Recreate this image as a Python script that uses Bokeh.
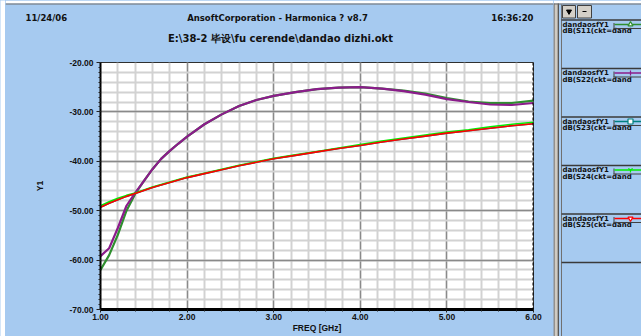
from bokeh.plotting import figure
from bokeh.layouts import row, column
from bokeh.models import Range1d, SingleIntervalTicker, PrintfTickFormatter, Span
from bokeh.core.properties import value
from bokeh.embed import file_html
from bokeh.resources import INLINE
import math

# ---------------- data ----------------
freq = [1.0, 1.1, 1.2, 1.3, 1.4, 1.5, 1.6, 1.7, 1.8, 1.9, 2.0, 2.2, 2.4, 2.6, 2.8, 3.0,
        3.25, 3.5, 3.75, 4.0, 4.25, 4.5, 4.75, 5.0, 5.25, 5.5, 5.75, 6.0]
s11 = [-62.0, -59.0, -54.9, -50.0, -46.6, -44.0, -41.6, -39.5, -37.9, -36.4, -35.0, -32.5,
       -30.5, -28.8, -27.6, -26.75, -26.0, -25.4, -25.1, -25.0, -25.3, -25.7, -26.3, -27.2,
       -27.9, -28.2, -28.2, -27.7]
s22 = [-59.2, -57.6, -53.5, -49.0, -46.4, -44.0, -41.6, -39.5, -37.9, -36.4, -35.0, -32.5,
       -30.5, -28.8, -27.6, -26.75, -26.0, -25.4, -25.1, -25.0, -25.3, -25.8, -26.5, -27.4,
       -28.0, -28.5, -28.6, -28.2]
s23 = [-49.3, -48.5, -47.8, -47.1, -46.5, -45.9, -45.3, -44.8, -44.3, -43.8, -43.3, -42.5,
       -41.7, -40.9, -40.2, -39.5, -38.8, -38.1, -37.4, -36.8, -36.1, -35.5, -34.9, -34.3,
       -33.8, -33.3, -32.8, -32.4]
s24 = [-49.0, -48.2, -47.5, -46.9, -46.4, -45.8, -45.2, -44.7, -44.2, -43.7, -43.2, -42.4,
       -41.6, -40.8, -40.1, -39.4, -38.7, -38.0, -37.3, -36.6, -35.9, -35.3, -34.7, -34.1,
       -33.6, -33.0, -32.5, -32.1]
s25 = [-49.3, -48.5, -47.8, -47.1, -46.5, -45.9, -45.3, -44.8, -44.3, -43.8, -43.3, -42.5,
       -41.7, -40.9, -40.2, -39.5, -38.8, -38.1, -37.4, -36.8, -36.1, -35.5, -34.9, -34.3,
       -33.8, -33.3, -32.8, -32.4]

series_names = ["S11", "S22", "S23", "S24", "S25"]
series_values = [s11, s22, s23, s24, s25]
series_colors = ["#2f8f2f", "#8b1c8b", "#008080", "#00ee00", "#ff0000"]
series_markers = ["triangle", "dash", "square", "y", "inverted_triangle"]

legend_line1 = "dandaosfY1"
legend_line2_fmt = "dB({}(ckt=dand"

header_date = "11/24/06"
header_title = "AnsoftCorporation - Harmonica ? v8.7"
header_time = "16:36:20"
header_file = "E:\\38-2 毕设\\fu cerende\\dandao dizhi.okt"

x_label = "FREQ [GHz]"
y_label = "Y1"

BG = "#A6CAF0"
FONT = "DejaVu Sans"
AXFONT = "Liberation Sans"


def bare(fig, bg):
    fig.axis.visible = False
    fig.grid.visible = False
    fig.outline_line_color = None
    fig.background_fill_color = bg
    fig.border_fill_color = bg
    fig.frame_align = False


# ---------------- white strip at left ----------------
sp = figure(width=5, height=336, x_range=Range1d(0, 5), y_range=Range1d(336, 0),
            output_backend="svg", toolbar_location=None, min_border=0)
bare(sp, "white")

# ---------------- header ----------------
h = figure(width=548, height=58, x_range=Range1d(5, 553), y_range=Range1d(58, 0),
           output_backend="svg", toolbar_location=None, min_border=0)
bare(h, BG)
h.quad(left=[5], right=[553], top=[0], bottom=[3], fill_color="white", line_color=None)
h.segment(x0=[5], y0=[3.5], x1=[553], y1=[3.5], line_color="#6a6a6a", line_width=1.2)
tkw = dict(text_font=value(FONT), text_font_style="bold", text_font_size="8.5px",
           text_color="#111111", text_baseline="middle")
h.text(x=[25], y=[17], text=[header_date], text_align="left", **tkw)
h.text(x=[277], y=[17], text=[header_title], text_align="center", **tkw)
h.text(x=[533], y=[17], text=[header_time], text_align="right", **tkw)
tkw2 = dict(tkw)
tkw2["text_font_size"] = "10px"
h.text(x=[280], y=[38], text=[header_file], text_align="center", **tkw2)

# ---------------- main plot ----------------
p = figure(width=548, height=278, x_range=Range1d(1, 6), y_range=Range1d(-70, -20),
           output_backend="svg", toolbar_location=None,
           min_border_left=95, min_border_right=20, min_border_top=4, min_border_bottom=27)
p.frame_align = False
p.background_fill_color = "white"
p.border_fill_color = BG
p.outline_line_color = "#303030"
p.outline_line_width = 1

p.xaxis.ticker = SingleIntervalTicker(interval=1, num_minor_ticks=5)
p.yaxis.ticker = SingleIntervalTicker(interval=10, num_minor_ticks=10)
p.xgrid.ticker = SingleIntervalTicker(interval=1, num_minor_ticks=5)
p.ygrid.ticker = SingleIntervalTicker(interval=10, num_minor_ticks=5)
for g in (p.xgrid, p.ygrid):
    g.grid_line_color = "#8a8a8a"
    g.grid_line_width = 1.3
    g.minor_grid_line_color = "#d2d2d2"
    g.minor_grid_line_width = 2

fmt = PrintfTickFormatter(format="%.2f")
for ax in (p.xaxis, p.yaxis):
    ax.formatter = fmt
    ax.axis_line_color = "black"
    ax.major_tick_line_color = "#222222"
    ax.minor_tick_line_color = "#222222"
    ax.major_tick_in = 0
    ax.minor_tick_in = 0
    ax.major_label_text_font = AXFONT
    ax.major_label_text_font_style = "bold"
    ax.major_label_text_font_size = "8.5px"
    ax.major_label_text_color = "#111111"
    ax.axis_label_text_font = AXFONT
    ax.axis_label_text_font_style = "bold"
    ax.axis_label_text_font_size = "8.5px"
    ax.axis_label_text_color = "#111111"

p.yaxis.axis_line_width = 2
p.yaxis.major_tick_out = 4
p.yaxis.minor_tick_out = 2
p.yaxis.major_label_standoff = 3
p.yaxis.axis_label = y_label
p.yaxis.axis_label_standoff = 21

p.xaxis.axis_line_width = 3
p.xaxis.major_tick_out = 3
p.xaxis.minor_tick_out = 2
p.xaxis.major_label_standoff = 1
p.xaxis.axis_label = x_label
p.xaxis.axis_label_standoff = 0

p.add_layout(Span(location=6, dimension="height", line_color="black",
                  line_width=2, line_dash="3 2"))

widths = [2.2, 2.2, 1.6, 1.6, 1.6]
for vals, col, lw in zip(series_values, series_colors, widths):
    p.line(freq, vals, line_color=col, line_width=lw)

# ---------------- side legend panel ----------------
s = figure(width=88, height=336, x_range=Range1d(553, 641), y_range=Range1d(336, 0),
           output_backend="svg", toolbar_location=None, min_border=0)
bare(s, BG)
s.quad(left=[553], right=[641], top=[0], bottom=[3], fill_color="white", line_color=None)

# separator bar
s.quad(left=[553], right=[558.5], top=[3], bottom=[336], fill_color="#cfcbc3", line_color=None)
s.segment(x0=[553.5, 557.8, 561], y0=[3, 3, 4], x1=[553.5, 557.8, 561], y1=[336, 336, 336],
          line_color=["#6a6a6a", "#4a4a4a", "#707070"], line_width=[1.2, 1.2, 1])
s.segment(x0=[553], y0=[3.5], x1=[641], y1=[3.5], line_color="#6a6a6a", line_width=1.2)

# buttons
s.quad(left=[562, 577], right=[575, 591], top=[5, 5], bottom=[17.5, 17.5],
       fill_color="#d4d0c8", line_color="#404040", line_width=1)
s.scatter(x=[568.5], y=[11], marker="inverted_triangle", size=5,
          fill_color="black", line_color="black")
s.segment(x0=[582], y0=[11], x1=[586], y1=[11], line_color="black", line_width=1)

# entries
seps = [19.5, 68, 116.5, 165, 213.5, 262]
s.segment(x0=[561] * len(seps), y0=seps, x1=[641] * len(seps), y1=seps,
          line_color="#3a3a3a", line_width=1.5)
ltk = dict(text_font=value(FONT), text_font_style="bold", text_font_size="7px",
           text_color="#111111", text_baseline="middle", text_align="left")
for i, (name, col, mk) in enumerate(zip(series_names, series_colors, series_markers)):
    y0 = seps[i]
    s.text(x=[562], y=[y0 + 4.5], text=[legend_line1], **ltk)
    s.text(x=[562], y=[y0 + 11], text=[legend_line2_fmt.format(name)], **ltk)
    s.segment(x0=[613], y0=[y0 + 8.5], x1=[641], y1=[y0 + 8.5], line_color="#404040", line_width=1.2)
    s.segment(x0=[613.5], y0=[y0 + 3], x1=[613.5], y1=[y0 + 9], line_color="#404040", line_width=1)
    s.segment(x0=[614], y0=[y0 + 4.5], x1=[641], y1=[y0 + 4.5], line_color=col, line_width=1.5)
    ang = math.pi / 2 if mk == "dash" else 0
    s.scatter(x=[630], y=[y0 + 4.5], marker=mk, size=5, angle=ang,
              line_color=col, fill_color="white", line_width=1.2)

left_col = column(h, p, spacing=0, styles={"background-color": BG})
layout = row(sp, left_col, s, spacing=0, styles={"background-color": BG})
open("out.html", "w").write(file_html(layout, INLINE))
